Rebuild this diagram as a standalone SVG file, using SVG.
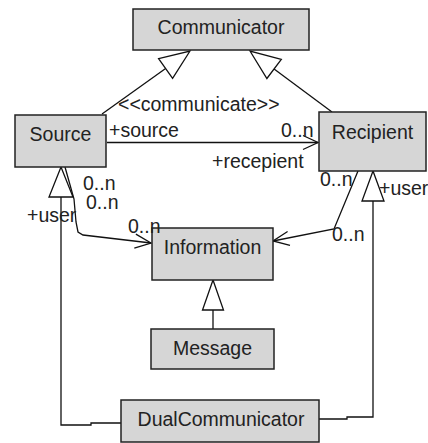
<svg xmlns="http://www.w3.org/2000/svg" width="428" height="443" viewBox="0 0 428 443">
  <style>
    .box { fill: #d6d6d6; stroke: #222; stroke-width: 1.5; }
    .name { font-family: "Liberation Sans", Arial, sans-serif; font-size: 19.5px; fill: #222; text-anchor: middle; }
    .lbl { font-family: "Liberation Sans", Arial, sans-serif; font-size: 19.5px; fill: #222; }
    .edge { fill: none; stroke: #111; stroke-width: 1.3; }
    .gen { fill: #fff; stroke: #111; stroke-width: 1.3; }
  </style>
  <rect width="428" height="443" fill="#fff"/>

  <g id="connectors">
    <!-- generalization: Source -> Communicator -->
    <line class="edge" x1="102" y1="114" x2="165.6" y2="68.5"/>
    <polygon class="gen" points="190,51 172.6,78.3 158.6,58.7"/>
    <!-- generalization: Recipient -> Communicator -->
    <line class="edge" x1="332" y1="112" x2="274.1" y2="68.9"/>
    <polygon class="gen" points="250,51 266.9,78.5 281.3,59.3"/>
    <!-- generalization: DualCommunicator -> Source -->
    <polyline class="edge" points="121,423 91,423 91,425 61,425 61,197"/>
    <polygon class="gen" points="61,167 49,197 73,197"/>
    <!-- generalization: DualCommunicator -> Recipient -->
    <polyline class="edge" points="319,419 347,419 347,417 373,417 373,201"/>
    <polygon class="gen" points="373,171 362,201 384,201"/>
    <!-- generalization: Message -> Information -->
    <line class="edge" x1="213" y1="310" x2="213" y2="329"/>
    <polygon class="gen" points="213,280 202.5,310 223.5,310"/>
    <!-- association: Source -> Recipient -->
    <line class="edge" x1="107" y1="142.5" x2="318" y2="142.5"/>
    <polyline class="edge" points="303,135.5 318,142.5 303,149.5"/>
    <!-- association: Source -> Information -->
    <polyline class="edge" points="65,167 74,199 76,222 78,232 83,235 151,243"/>
    <polyline class="edge" points="135.9,234.1 151,243 134.3,248.1"/>
    <!-- association: Recipient -> Information -->
    <polyline class="edge" points="358,171 334,229 273,241"/>
    <polyline class="edge" points="287.6,231.5 273,241 290,245.3"/>
  </g>

  <g id="Communicator">
    <rect class="box" x="133" y="9" width="176" height="41"/>
    <text class="name" x="221" y="34">Communicator</text>
  </g>
  <g id="Source">
    <rect class="box" x="15" y="115" width="91" height="52"/>
    <text class="name" x="60.5" y="141">Source</text>
  </g>
  <g id="Recipient">
    <rect class="box" x="319" y="112" width="107" height="59"/>
    <text class="name" x="372.5" y="139">Recipient</text>
  </g>
  <g id="Information">
    <rect class="box" x="152" y="228" width="121" height="52"/>
    <text class="name" x="212.5" y="254">Information</text>
  </g>
  <g id="Message">
    <rect class="box" x="151" y="329" width="123" height="40"/>
    <text class="name" x="212.5" y="355">Message</text>
  </g>
  <g id="DualCommunicator">
    <rect class="box" x="121" y="400" width="198" height="42"/>
    <text class="name" x="221" y="426">DualCommunicator</text>
  </g>

  <g id="labels">
    <text class="lbl" x="118" y="111">&lt;&lt;communicate&gt;&gt;</text>
    <text class="lbl" x="109" y="137">+source</text>
    <text class="lbl" x="281" y="137">0..n</text>
    <text class="lbl" x="212" y="168">+recepient</text>
    <text class="lbl" x="83" y="190">0..n</text>
    <text class="lbl" x="86" y="209">0..n</text>
    <text class="lbl" x="27" y="222">+user</text>
    <text class="lbl" x="128" y="233">0..n</text>
    <text class="lbl" x="320" y="186">0..n</text>
    <text class="lbl" x="332" y="241">0..n</text>
    <text class="lbl" x="379" y="195">+user</text>
  </g>
</svg>
